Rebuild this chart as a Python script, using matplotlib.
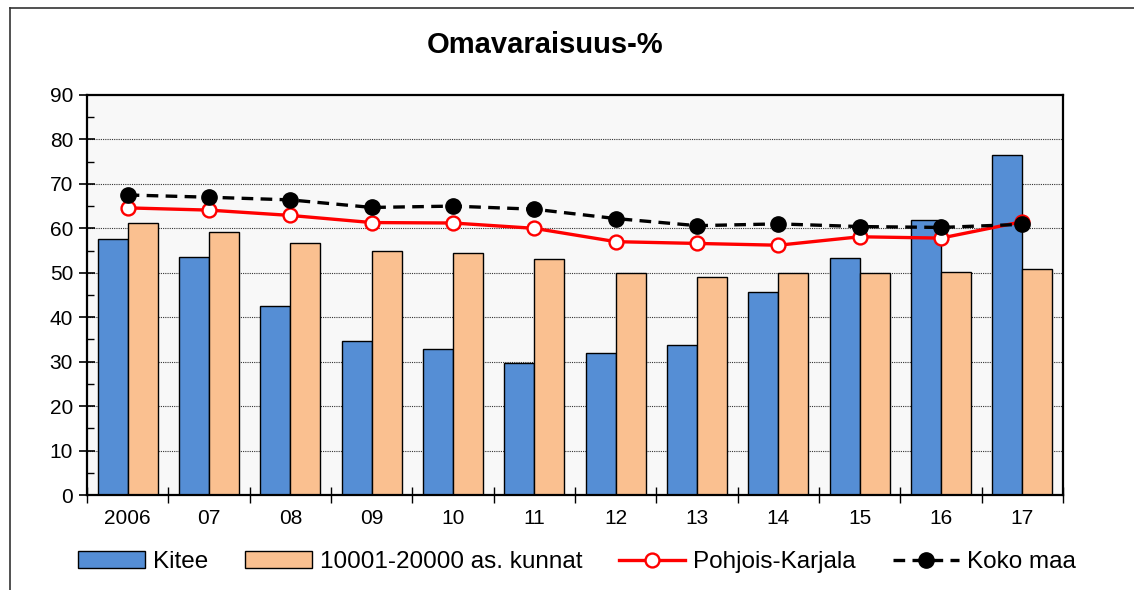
import numpy as np
from matplotlib import pyplot as plt
from matplotlib.lines import Line2D

plt.rcParams['font.family'] = ['Liberation Sans', 'DejaVu Sans']

years = ['2006', '07', '08', '09', '10', '11', '12', '13', '14', '15', '16', '17']
kitee = [57.6, 53.5, 42.5, 34.7, 32.8, 29.7, 32.0, 33.8, 45.7, 53.4, 61.9, 76.5]
kunnat = [61.3, 59.2, 56.8, 54.9, 54.5, 53.1, 49.9, 49.0, 50.0, 50.0, 50.2, 50.9]
pkarjala = [64.6, 64.1, 62.9, 61.3, 61.2, 60.0, 57.0, 56.6, 56.2, 58.1, 57.8, 61.5]
kokomaa = [67.5, 67.0, 66.4, 64.7, 65.0, 64.3, 62.2, 60.6, 61.0, 60.4, 60.2, 60.9]

fig = plt.figure(figsize=(11.34, 5.90), dpi=100)
ax = fig.add_axes([0.0767, 0.161, 0.8607, 0.678])
ax.set_facecolor('#f8f8f8')

x = np.arange(len(years))
w = 0.369
b1 = ax.bar(x - w / 2, kitee, w, color='#558ed5', edgecolor='black', linewidth=1, zorder=2)
b2 = ax.bar(x + w / 2, kunnat, w, color='#fac090', edgecolor='black', linewidth=1, zorder=2)
l1, = ax.plot(x, pkarjala, color='red', linewidth=2.4, marker='o', markersize=10,
              markerfacecolor='white', markeredgecolor='red', markeredgewidth=1.7, zorder=3)
l2, = ax.plot(x, kokomaa, color='black', linewidth=2.4, linestyle=(0, (3.5, 2.2)), marker='o',
              markersize=11, markerfacecolor='black', markeredgecolor='black', zorder=4)

ax.set_xlim(-0.5, len(years) - 0.5)
ax.set_ylim(0, 90)
ax.set_yticks(range(0, 91, 10))
ax.set_yticks(range(5, 90, 10), minor=True)
ax.set_xticks(x)
ax.set_xticklabels(years)
ax.set_xticks(np.arange(-0.5, len(years)), minor=True)
ax.tick_params(axis='x', which='major', length=0, pad=10, labelsize=15)
ax.tick_params(axis='x', which='minor', direction='inout', length=12, width=1)
ax.tick_params(axis='y', which='major', direction='inout', length=12, width=1.2, labelsize=15, pad=4)
ax.tick_params(axis='y', which='minor', direction='in', length=5, width=1)

for v in range(10, 90, 10):
    ax.axhline(v, color='#333333', linewidth=0.8, linestyle=(0, (1, 1)), zorder=1)

for s in ax.spines.values():
    s.set_linewidth(1.6)
    s.set_color('black')

fig.text(545 / 1134, 1 - 45 / 590, 'Omavaraisuus-%', fontsize=21, fontweight='bold',
         ha='center', va='center')

fig.legend([b1, b2, l1, l2], ['Kitee', '10001-20000 as. kunnat', 'Pohjois-Karjala', 'Koko maa'],
           loc='center', bbox_to_anchor=(0.509, 1 - 562 / 590), ncol=4, frameon=False,
           fontsize=17.5, handlelength=2.75, handletextpad=0.33, columnspacing=1.5)

# chart frame (only top and left edges visible)
fig.add_artist(Line2D([10 / 1134, 1], [1 - 8 / 590, 1 - 8 / 590], color='#333333', linewidth=1.2))
fig.add_artist(Line2D([10 / 1134, 10 / 1134], [0, 1 - 8 / 590], color='#333333', linewidth=1.2))

plt.savefig('out.png', dpi=100)
